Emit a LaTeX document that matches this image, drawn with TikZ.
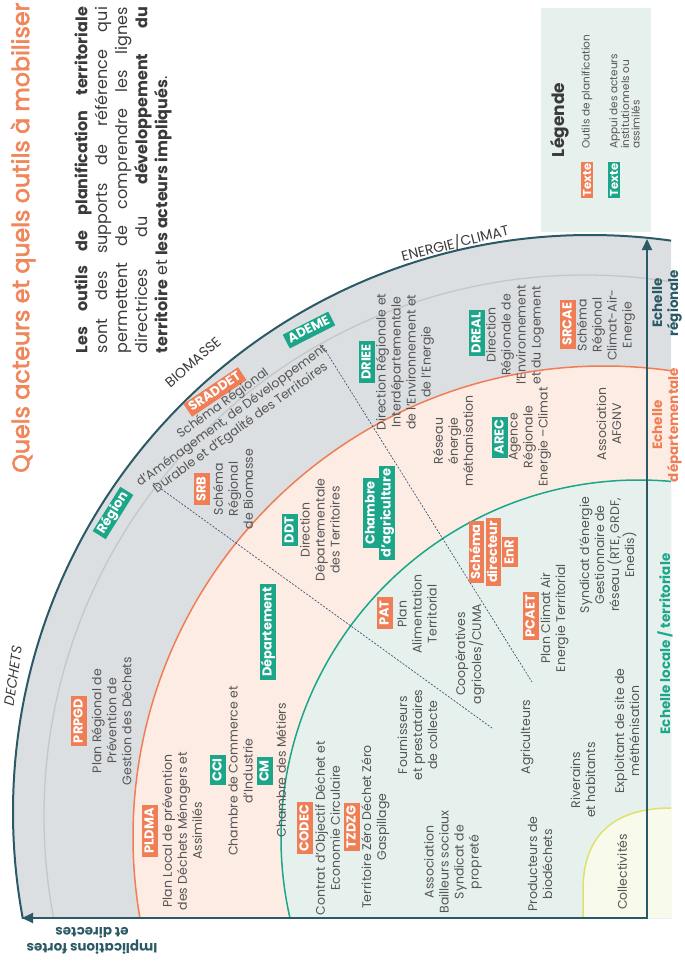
\documentclass[tikz,border=0pt]{standalone}
\usepackage{fontspec}
\setmainfont{Poppins}
\newfontface\titleface{Poppins}[FakeBold=2.5]
\usetikzlibrary{arrows.meta}
\definecolor{cteal}{HTML}{2B5965}
\definecolor{corange}{HTML}{EF7E56}
\definecolor{ctitle}{HTML}{F0875C}
\definecolor{cgreen}{HTML}{1BA689}
\definecolor{cband}{HTML}{DCDFE2}
\definecolor{cpeach}{HTML}{FDECE3}
\definecolor{cmint}{HTML}{E6F1EE}
\definecolor{cyelf}{HTML}{F8FAEB}
\definecolor{cyell}{HTML}{DDE36A}
\definecolor{cgline}{HTML}{C4C7CA}
\definecolor{clegend}{HTML}{E6F0EC}
\definecolor{cgray}{HTML}{555555}
\definecolor{cpara}{HTML}{3A3A3A}
\definecolor{cdash}{HTML}{3D5577}
\newcommand\fsz[2]{\fontsize{#1}{#2}\selectfont}
\begin{document}
\begin{tikzpicture}[x=1pt,y=-1pt,
  lab/.style={rotate=90, align=center, text=cgray, font=\fsz{12.5}{15}, inner sep=0pt},
  tagO/.style={text=white, font=\bfseries\fsz{13}{13}, inner xsep=3pt, inner ysep=1.6pt, text height=9.6pt, text depth=2.6pt},
  otagr/.style={tagO, fill=corange},
  gtagr/.style={tagO, fill=cgreen},
  otag/.style={otagr, rotate=90},
  gtag/.style={gtagr, rotate=90},
  scale label/.style={rotate=90, align=center, font=\bfseries\fsz{13.5}{16}, inner sep=0pt},
  theme/.style={text=cpara, font=\fsz{14}{14}, inner sep=0pt},
  axisline/.style={cteal, line width=2pt, line join=miter},
  dashline/.style={cdash, line width=0.7pt, dash pattern=on 2pt off 1.5pt}
]
\useasboundingbox (0,0) rectangle (685,962);

% ---- bands ----
\begin{scope}
\clip (0,0) rectangle (671,918);
\fill[cband] (590,812) circle[radius=577pt];
\fill[cpeach] (604,837) circle[radius=471pt];
\fill[cmint] (639,838) circle[radius=358pt];
\fill[cyelf] (583,918) -- (583,890) .. controls (583,830) and (620,808) .. (671,808) -- (671,918) -- cycle;
\draw[cgline, line width=1.3pt] (585,816) circle[radius=541pt];
\draw[cteal, line width=2pt] (590,812) circle[radius=577pt];
\draw[corange, line width=1.5pt] (604,837) circle[radius=471pt];
\draw[cgreen, line width=1.5pt] (639,838) circle[radius=358pt];
\draw[cyell, line width=1.5pt] (583,918) -- (583,890) .. controls (583,830) and (620,808) .. (671,808);
\end{scope}

% ---- axes ----
\coordinate (O) at (647,918);
\coordinate (ytip) at (647,239);
\coordinate (xtip) at (22,918);
\draw[axisline, {Triangle[length=11pt,width=10pt]}-{Triangle[length=11pt,width=10pt]}] (ytip) -- (O) -- (xtip);

% ---- dashed links ----
\coordinate (d1a) at (153,483);
\coordinate (d1b) at (492,728);
\coordinate (d2a) at (322,345);
\coordinate (d2b) at (532,682);
\draw[dashline] (d1a) -- (d1b);
\draw[dashline] (d2a) -- (d2b);

% ---- legend ----
\fill[clegend] (541,8) rectangle (651,232);
\node[rotate=90, text=cpara, font=\bfseries\fsz{17}{17}, inner sep=0pt] (legtitle) at (560,120) {Légende};
\node[otag, font=\bfseries\fsz{11.5}{11.5}, inner xsep=1.5pt, text height=8.5pt, text depth=0.5pt] (legO) at (587,180) {Texte};
\node[gtag, font=\bfseries\fsz{11.5}{11.5}, inner xsep=1.5pt, text height=8.5pt, text depth=0.5pt] (legG) at (614,180) {Texte};
\node[lab, anchor=west, align=left, font=\fsz{10.5}{11}] (legOt) at (587,149) {Outils de planification};
\node[lab, anchor=west, align=left, font=\fsz{10.5}{10.5}] (legGt) at (624.5,149) {Appui des acteurs\\institutionnels ou\\assimilés};

% ---- title and intro ----
\node[rotate=90, anchor=west, text=ctitle, font=\titleface\fsz{23.7}{24}, inner sep=0pt] (title) at (23,473) {Quels acteurs et quels outils à mobiliser ?};
\node[rotate=90, text width=346pt, align=justify, text=cpara, font=\fsz{16}{20}, inner sep=0pt] (intro) at (123,180)
 {\textbf{Les outils de planification territoriale}\linebreak sont des supports de référence qui\linebreak permettent de comprendre les lignes\linebreak directrices du \textbf{développement du}\linebreak \textbf{territoire} et \textbf{les acteurs impliqués}.};

% ---- theme labels ----
\node[theme, rotate=82, font=\itshape\fsz{14}{14}] (dechets) at (13,676) {DECHETS};
\node[theme, rotate=41] (biomasse) at (193,362) {BIOMASSE};
\node[theme, rotate=14] (energie) at (455,243) {ENERGIE/CLIMAT};

% ---- axis labels ----
\node[scale label, text=cteal] (echreg) at (667,303) {Echelle\\régionale};
\node[scale label, text=corange] (echdep) at (667,425) {Echelle\\départementale};
\node[scale label, text=cgreen] (echloc) at (665,644) {Echelle locale / territoriale};
\node[rotate=180, align=center, text=cteal, font=\bfseries\fsz{13.5}{15.5}, inner sep=0pt] (impl) at (92,941) {Implications fortes\\et directes};

% ---- regional band ----
\node[gtagr, rotate=58] (region) at (113,513) {Région};
\node[otagr, rotate=34] (sraddet) at (215,392) {SRADDET};
\node[lab, rotate=-54] (sraddetT) at (232,416) {Schéma Régional\\d'Aménagement, de Développement\\Durable et d'Egalité des Territoires};
\node[gtagr, rotate=27] (ademe) at (309,330) {ADEME};
\node[otag] (prpgd) at (79,721) {PRPGD};
\node[lab] (prpgdT) at (111.5,721) {Plan Régional de\\Prévention de\\Gestion des Déchets};
\node[otag] (srb) at (202,489) {SRB};
\node[lab] (srbT) at (233,489) {Schéma\\Régional\\de Biomasse};
\node[gtag] (driee) at (367,362) {DRIEE};
\node[lab] (drieeT) at (405,362) {Direction Régionale et\\Interdépartementale\\de l'Environnement et\\de l'Energie};
\node[gtag] (dreal) at (477,333) {DREAL};
\node[lab] (drealT) at (515,335) {Direction\\Régionale de\\l'Environnement\\et du Logement};
\node[otag] (srcae) at (568,324) {SRCAE};
\node[lab] (srcaeT) at (606,325) {Schéma\\Régional\\Climat-Air-\\Energie};

% ---- departmental band ----
\node[gtag] (ddt) at (290,530) {DDT};
\node[lab] (ddtT) at (320,530) {Direction\\Départementale\\des Territoires};
\node[gtag] (dept) at (268,632) {Département};
\node[gtag] (chamb1) at (371,513) {Chambre};
\node[gtag] (chamb2) at (387,513) {d'agriculture};
\node[lab] (reseau) at (453,441) {Réseau\\énergie\\méthanisation};
\node[gtag] (arec) at (500,437) {AREC};
\node[lab] (arecT) at (530,437) {Agence\\Régionale\\Energie –Climat};
\node[lab] (afgnv) at (609,424) {Association\\AFGNV};
\node[otag] (pldma) at (150,831) {PLDMA};
\node[lab] (pldmaT) at (182,831) {Plan Local de prévention\\des Déchets Ménagers et\\Assimilés};
\node[gtag] (cci) at (218,770) {CCI};
\node[lab] (cciT) at (240.5,771) {Chambre de Commerce et\\d'Industrie};
\node[gtag] (cm) at (265,771) {CM};
\node[lab] (cmT) at (281,770) {Chambre des Métiers};

% ---- local band ----
\node[otag] (codec) at (305,828) {CODEC};
\node[lab] (codecT) at (327.5,828) {Contrat d'Objectif Déchet et\\Economie Circulaire};
\node[otag] (tzdzg) at (352,827) {TZDZG};
\node[lab] (tzdzgT) at (375.5,827) {Territoire Zéro Déchet Zéro\\Gaspillage};
\node[otag] (pat) at (385,613) {PAT};
\node[lab] (patT) at (417,614) {Plan\\Alimentation\\Territorial};
\node[otag] (sde1) at (476.5,552) {Schéma};
\node[otag] (sde2) at (493.5,552) {directeur};
\node[otag] (sde3) at (510,552) {EnR};
\node[otag] (pcaet) at (531,616) {PCAET};
\node[lab] (pcaetT) at (554.5,618) {Plan Climat Air\\Energie Territorial};
\node[lab] (synd) at (608,555) {Syndicat d'énergie\\Gestionnaire de\\réseau (RTE, GRDF,\\Enedis)};
\node[lab] (coop) at (470,654) {Coopératives\\agricoles/CUMA};
\node[lab] (fourn) at (417.5,735) {Fournisseurs\\et prestataires\\de collecte};
\node[lab] (agri) at (527,737) {Agriculteurs};
\node[lab] (exploit) at (627,731) {Exploitant de site de\\méthénisation};
\node[lab] (assoc) at (453,862) {Association\\Bailleurs sociaux\\Syndicat de\\propreté};
\node[lab] (prod) at (540,864) {Producteurs de\\biodéchets};
\node[lab] (riv) at (583,780) {Riverains\\et habitants};
\node[lab] (coll) at (622,872) {Collectivités};
\end{tikzpicture}
\end{document}
